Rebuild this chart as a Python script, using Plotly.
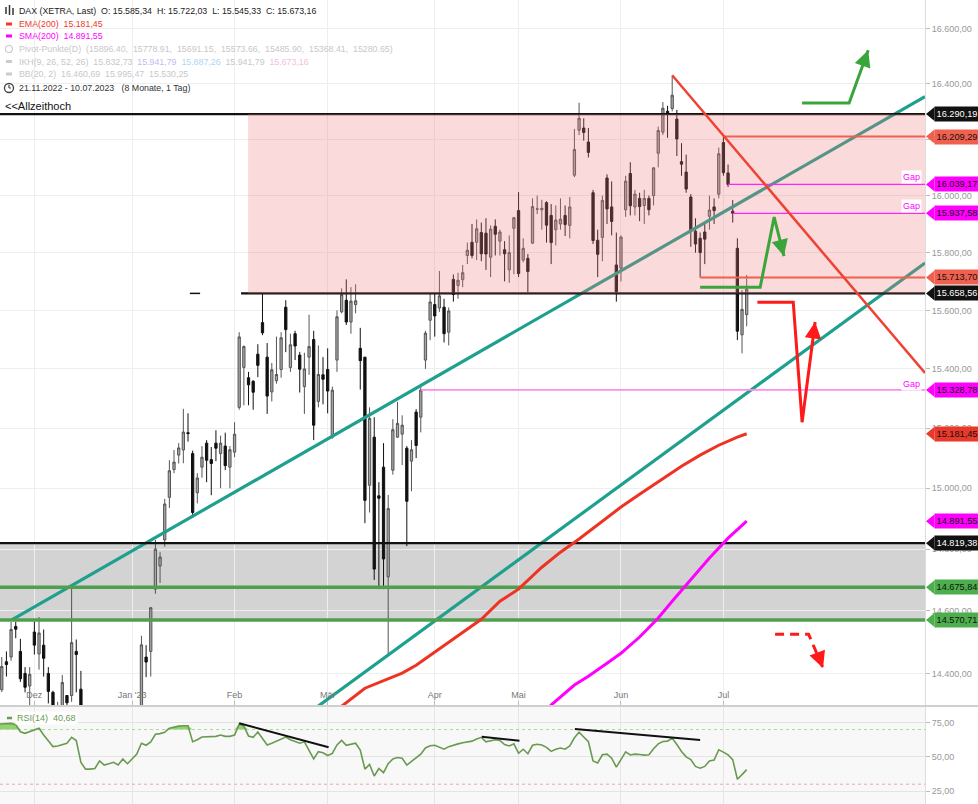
import math
import pandas as pd
import plotly.graph_objects as go

# ---------------- data ----------------
holidays = {"2022-12-26", "2023-04-07", "2023-04-10", "2023-05-01"}
dates = [d.strftime("%d.%m.%Y") for d in pd.bdate_range("2022-11-21", "2023-07-10")
         if d.strftime("%Y-%m-%d") not in holidays]

opens = [14383, 14348, 14437, 14452, 14550, 14470, 14400, 14360, 14532, 14462,
         14490, 14400, 14340, 14260, 14290, 14330, 14330, 14470, 14350, 13990,
         13900, 13880, 13920, 14100, 13900, 13960, 13990, 13920, 14040, 13990,
         14080, 14240, 14452, 14470, 14670, 14745, 14830, 14970, 15062, 15110,
         15127, 15185, 15115, 14985, 15070, 15150, 15095, 15150, 15115, 15140,
         15070, 15120, 15270, 15405, 15370, 15358, 15450, 15558, 15440, 15322,
         15360, 15398, 15611, 15405, 15520, 15447, 15340, 15440, 15500, 15290,
         15380, 15398, 15170, 15430, 15595, 15635, 15560, 15620, 15470, 15440,
         15010, 15170, 14975, 15070, 14710, 15060, 15170, 15180, 15133, 15090,
         15254, 15237, 15430, 15566, 15620, 15608, 15611, 15525, 15707, 15686,
         15706, 15790, 15836, 15836, 15870, 15868, 15784, 15892, 15840, 15810,
         15740, 15885, 15947, 15774, 15780, 15833, 15952, 15950, 15975, 15930,
         15880, 15900, 15930, 15895, 16072, 16232, 16240, 16190, 16010, 15843,
         15853, 16062, 15960, 15757, 15746, 15950, 16078, 15960, 15990, 15965,
         15990, 16000, 16150, 16225, 16300, 16310, 16272, 16120, 16083, 15995,
         15875, 15850, 15872, 15927, 15960, 16005, 16188, 16080, 15945, 15815,
         15516, 15585.34]
highs = [14395, 14452, 14470, 14564, 14565, 14510, 14420, 14420, 14565, 14580,
         14540, 14420, 14345, 14310, 14395, 14330, 14675, 14508, 14408, 14020,
         14010, 13960, 14110, 14160, 13960, 14025, 14030, 14090, 14050, 14090,
         14235, 14520, 14490, 14612, 14830, 14790, 14965, 15093, 15127, 15150,
         15265, 15250, 15125, 15050, 15140, 15160, 15137, 15193, 15175, 15185,
         15140, 15220, 15525, 15480, 15390, 15362, 15484, 15658.56, 15488, 15420,
         15510, 15525, 15635, 15520, 15530, 15458, 15455, 15585, 15530, 15480,
         15440, 15470, 15340, 15600, 15676, 15707, 15680, 15690, 15540, 15440,
         15270, 15237, 15020, 15150, 14978, 15230, 15288, 15243, 15140, 15160,
         15264, 15340, 15530, 15659, 15660, 15736, 15640, 15610, 15724, 15730,
         15757, 15835, 15900, 15916, 15905, 15920, 15895, 15916, 15880, 15840,
         15860, 15925, 16012, 15850, 15795, 15990, 16000, 15985, 15980, 15970,
         15965, 15990, 15965, 15995, 16237, 16331, 16275, 16240, 16020, 15880,
         16000, 16075, 16050, 15870, 15860, 16070, 16118, 16020, 16010, 16020,
         16000, 16100, 16245, 16333, 16320, 16427, 16305, 16186, 16145, 16005,
         15920, 15870, 15900, 16000, 15990, 16170, 16209.29, 16110, 15984, 15850,
         15670, 15722.03]
lows = [14290, 14341, 14390, 14440, 14512, 14373, 14340, 14300, 14460, 14412,
        14390, 14305, 14226, 14210, 14280, 14245, 14310, 14340, 13950, 13800,
        13860, 13790, 13915, 13830, 13880, 13930, 13900, 13900, 13880, 13970,
        14080, 14232, 14388, 14390, 14655, 14690, 14808, 14935, 15050, 15082,
        15083, 15155, 14905, 14950, 15035, 15020, 14977, 15090, 15000, 15060,
        15000, 15103, 15262, 15277, 15277, 15262, 15372, 15515, 15248, 15290,
        15350, 15370, 15457, 15390, 15430, 15320, 15248, 15380, 15160, 15270,
        15280, 15250, 15165, 15390, 15590, 15550, 15520, 15590, 15330, 14885,
        14920, 14700, 14670, 14670, 14458, 15045, 15168, 15077, 14810, 14990,
        15100, 15186, 15400, 15498, 15510, 15595, 15490, 15480, 15630, 15640,
        15680, 15760, 15780, 15774, 15770, 15740, 15715, 15790, 15790, 15700,
        15695, 15725, 15715, 15766, 15662, 15830, 15935, 15880, 15835, 15760,
        15825, 15880, 15858, 15850, 16065, 16215, 16195, 16135, 15830, 15715,
        15770, 15900, 15860, 15630, 15700, 15925, 15930, 15930, 15910, 15900,
        15930, 15965, 16100, 16215, 16205, 16300, 16140, 16070, 16010, 15820,
        15800, 15713.70, 15760, 15880, 15900, 15990, 16070, 16030, 15905, 15498,
        15453, 15545.33]
closes = [14380, 14422, 14428, 14540, 14541, 14383, 14356, 14397, 14490, 14529,
          14448, 14343, 14261, 14265, 14371, 14307, 14498, 14460, 13986, 13893,
          13943, 13885, 14098, 13914, 13941, 13995, 13926, 14072, 13924, 14069,
          14182, 14491, 14436, 14610, 14800, 14774, 14948, 15058, 15087, 15134,
          15187, 15182, 14920, 15034, 15103, 15093, 15082, 15133, 15150, 15075,
          15128, 15180, 15509, 15476, 15346, 15321, 15412, 15523, 15308, 15397,
          15381, 15506, 15534, 15482, 15478, 15399, 15400, 15476, 15210, 15381,
          15365, 15325, 15328, 15578, 15654, 15560, 15632, 15633, 15428, 14960,
          15233, 14735, 14967, 14768, 14933, 15195, 15216, 15210, 14957, 15128,
          15142, 15328.78, 15522, 15629, 15581, 15650, 15520, 15598, 15655, 15704,
          15730, 15808, 15790, 15883, 15796, 15795, 15882, 15864, 15872, 15796,
          15800, 15922, 15727, 15815, 15734, 15961, 15953, 15955, 15896, 15835,
          15914, 15917, 15898, 15960, 16163, 16275, 16224, 16153, 15842, 15794,
          15983, 15953, 15909, 15664, 15854, 16051, 15964, 16005, 15961, 15990,
          15950, 16098, 16231, 16311, 16290, 16358, 16201, 16111, 16023, 15880,
          15830, 15800, 15847, 15949, 15947, 16148, 16081, 16039.17, 15937.58, 15528.5,
          15603.5, 15673.16]
rsi = [74, 74, 74.5, 74.5, 73.5, 68.4, 67.2, 68.5, 69.5, 70.9,
       66, 61.5, 57.5, 58, 59, 60, 64.3, 62, 46, 41,
       41, 41.5, 47, 44, 45, 46, 44, 48.5, 45, 48.5,
       52, 60, 58.5, 61, 66.5, 67, 68, 71, 72, 72.5,
       72.8, 72.8, 61.1, 62.5, 64.5, 64.5, 64.5, 65, 66, 65,
       65, 66, 74, 72.5, 65.3, 64.3, 68.2, 63, 58.7, 60,
       61.5, 63.5, 64.5, 62.5, 61.5, 60, 61, 55, 48.5, 53.8,
       53, 51, 52.5, 58.7, 62, 58.5, 59.5, 60, 55, 41,
       44.5, 36, 41.5, 38.4, 45, 48.5, 49.5, 49, 44, 46.5,
       49.5, 52, 56.5, 58.2, 58.5, 57, 55.6, 57.5, 58.7, 59.5,
       60.3, 60.8, 61.5, 63, 64.3, 61, 62, 62.5, 62, 59,
       58, 59.5, 52.6, 55.6, 52.3, 58.5, 59.2, 58.7, 57, 54,
       55.5, 56.5, 55.6, 58, 64, 68, 64.5, 61.1, 47, 45.5,
       51.5, 52, 49, 42.5, 48, 53.6, 51.4, 52, 51.7, 51.3,
       51.5, 56, 59.5, 61.2, 61.5, 63.8, 59, 54, 50, 48,
       43, 41.7, 43, 47, 47.7, 55.2, 53.5, 51.5, 48, 33.6,
       37, 40.68]

ema_idx = [72, 74, 79, 84, 87, 90, 94, 99, 104, 108, 112, 117, 121, 125, 130, 134, 138, 142, 147, 151, 155, 159, 161]
ema_val = [14250, 14296, 14353, 14382, 14401, 14426, 14468, 14522, 14573, 14631, 14670, 14741, 14790, 14833,
           14892, 14938, 14980, 15020, 15073, 15110, 15143, 15170, 15181.45]
sma_idx = [118, 119, 124, 127, 131, 134, 138, 142, 145, 149, 153, 157, 161]
sma_val = [14280, 14300, 14363, 14391, 14432, 14464, 14516, 14577, 14631, 14702, 14771, 14836, 14891.55]

month_idx = [8, 29, 51, 71, 94, 112, 134, 156]
month_lbl = ["Dez", "Jan '23", "Feb", "Mär", "Apr", "Mai", "Jun", "Jul"]
price_ticks = [14400, 14600, 14800, 15000, 15200, 15400, 15600, 15800, 16000, 16200, 16400, 16600]
rsi_ticks = [25, 50, 75]

# key levels
lvl_ath = 16290.19
lvl_r1 = 16209.29
lvl_gap1 = 16039.17
lvl_gap2 = 15937.58
lvl_r2 = 15713.70
lvl_sup = 15658.56
lvl_gap3 = 15328.78
lvl_b = 14819.38
lvl_g1 = 14675.84
lvl_g2 = 14570.71
ema_last = 15181.45
sma_last = 14891.55

# ---------------- geometry ----------------
W, H = 978, 804
PR = 925
D0, D1 = 1 - 705 / H, 1.0
R0, R1 = 0.0, 1 - 707 / H
P_LO, P_HI = 14300, 16705
L0, L1 = math.log10(P_LO), math.log10(P_HI)
X_LO, X_HI = 0.62, 199.3
RSI_LO, RSI_HI = 15.5, 86.5


def py(p):
    return D0 + (math.log10(p) - L0) / (L1 - L0) * (D1 - D0)


def pxx(px):
    return px / PR


def pxy(pyy):
    return 1 - pyy / H


def de(v):
    s = f"{v:,.2f}"
    return s.replace(",", "X").replace(".", ",").replace("X", ".")


xi = list(range(len(dates)))
fig = go.Figure()

fig.add_trace(go.Candlestick(
    x=xi, open=opens, high=highs, low=lows, close=closes, text=dates,
    increasing=dict(line=dict(color="#555555", width=1), fillcolor="#a6a6a6"),
    decreasing=dict(line=dict(color="#111111", width=1), fillcolor="#111111"),
    whiskerwidth=0, showlegend=False, xaxis="x", yaxis="y"))


def line(xs, ys, color, width, dash=None, xa="x", ya="y"):
    fig.add_trace(go.Scatter(x=xs, y=ys, mode="lines", xaxis=xa, yaxis=ya,
                             line=dict(color=color, width=width, dash=dash),
                             hoverinfo="skip", showlegend=False))


TEAL = "#1fa08f"
line([3.14, X_HI], [14571, 16353], TEAL, 3.2)
line([65, X_HI], [14254, 15764], TEAL, 3.2)
line([0, X_HI], [lvl_ath, lvl_ath], "#111111", 2.2)
line([52.4, X_HI], [lvl_sup, lvl_sup], "#111111", 2.2)
line([41.4, 43.6], [lvl_sup, lvl_sup], "#111111", 1.5)
fig.add_trace(go.Scatter(x=[53.9, X_HI, X_HI, 53.9, 53.9],
                         y=[lvl_sup, lvl_sup, lvl_ath, lvl_ath, lvl_sup],
                         mode="lines", fill="toself", fillcolor="rgba(236,120,120,0.27)",
                         line=dict(width=0), hoverinfo="skip", showlegend=False))
line([0, X_HI], [lvl_b, lvl_b], "#111111", 2.2)
line([0, X_HI], [lvl_g1, lvl_g1], "#4f9f4f", 3.5)
line([0, X_HI], [lvl_g2, lvl_g2], "#4f9f4f", 3.5)
line([156, X_HI], [lvl_r1, lvl_r1], "#f0604f", 2)
line([151, X_HI], [lvl_r2, lvl_r2], "#f0604f", 2)
line([157, X_HI], [lvl_gap1, lvl_gap1], "#ff22ff", 1.2)
line([158, X_HI], [lvl_gap2, lvl_gap2], "#ff22ff", 1.2)
line([91, X_HI], [lvl_gap3, lvl_gap3], "#ff8cf0", 1.8)
line([145, X_HI], [16430, 15386], "#f04232", 2.5)
line(ema_idx, ema_val, "#ee3322", 3)
line(sma_idx, sma_val, "#ff00ff", 3)

GREEN_A = "#3aa53a"
RED_A = "#ff1a1a"
line([172.9, 183.0, 187.1], [16330, 16330, 16521], GREEN_A, 3)
line([151.0, 163.9, 166.9, 169.0], [15680, 15680, 15924, 15788], GREEN_A, 3)
line([163.3, 171.0, 172.9, 175.7], [15628, 15628, 15220, 15560], RED_A, 3)
line([167.1, 174.3, 177.4], [14525, 14525, 14417], RED_A, 3, dash="9px,6px")

# RSI panel
fig.add_trace(go.Scatter(x=xi, y=[70] * len(xi), mode="lines", xaxis="x2", yaxis="y2",
                         line=dict(width=0, color="rgba(0,0,0,0)"), hoverinfo="skip", showlegend=False))
fig.add_trace(go.Scatter(x=xi, y=[max(v, 70) for v in rsi], mode="lines", xaxis="x2", yaxis="y2",
                         fill="tonexty", fillcolor="rgba(128,204,88,0.85)",
                         line=dict(width=0, color="rgba(0,0,0,0)"), hoverinfo="skip", showlegend=False))
line([X_LO, X_HI], [70, 70], "#a8dc90", 1, dash="dot", xa="x2", ya="y2")
line([X_LO, X_HI], [30, 30], "#f5a0a0", 1, dash="dot", xa="x2", ya="y2")
line(xi, rsi, "#6a9a50", 1.6, xa="x2", ya="y2")
line([52.0, 71.2], [74.6, 57.1], "#111111", 2, xa="x2", ya="y2")
line([104.1, 112.2], [64.8, 61.8], "#111111", 2, xa="x2", ya="y2")
line([124.1, 151.0], [70.4, 62.4], "#111111", 2, xa="x2", ya="y2")

# ---------------- shapes ----------------
shapes = [
    dict(type="rect", xref="x", yref="y", x0=X_LO - 1, x1=X_HI + 1, y0=lvl_g2, y1=lvl_b,
         fillcolor="#d3d3d3", line=dict(width=0), layer="below"),
    dict(type="rect", xref="paper", yref="paper", x0=0, x1=1, y0=R0, y1=R1,
         fillcolor="#f8f8f8", line=dict(width=0), layer="below"),
    dict(type="line", xref="paper", yref="paper", x0=0, x1=W / PR, y0=pxy(706), y1=pxy(706),
         line=dict(color="#cfcfcf", width=2)),
]

tags = [(lvl_ath, "#111111", "#ffffff"), (lvl_r1, "#f0604f", "#111111"),
        (lvl_gap1, "#ff00ff", "#111111"), (lvl_gap2, "#ff00ff", "#111111"),
        (lvl_r2, "#f0604f", "#111111"), (lvl_sup, "#111111", "#ffffff"),
        (lvl_gap3, "#ff00ff", "#111111"), (ema_last, "#e8392b", "#111111"),
        (sma_last, "#ff00ff", "#111111"), (lvl_b, "#111111", "#ffffff"),
        (lvl_g1, "#4cae4c", "#111111"), (lvl_g2, "#4cae4c", "#111111")]

annotations = []
for p, bg, fg in tags:
    yy = py(p)
    h = 7 / H
    xt, xb = pxx(926), pxx(934.5)
    shapes.append(dict(type="path", xref="paper", yref="paper",
                       path=f"M {xt},{yy} L {xb},{yy + h} L {xb},{yy - h} Z",
                       fillcolor=bg, line=dict(width=0)))
    annotations.append(dict(xref="paper", yref="paper", x=pxx(934), y=yy, xanchor="left", yanchor="middle",
                            text=de(p), showarrow=False, bgcolor=bg, borderpad=1, width=42, height=12,
                            align="center", font=dict(size=9.2, color=fg)))

shapes += [
    dict(type="line", xref="paper", yref="paper", x0=pxx(6), x1=pxx(6), y0=pxy(7), y1=pxy(14), line=dict(color="#333", width=1.5)),
    dict(type="line", xref="paper", yref="paper", x0=pxx(9.5), x1=pxx(9.5), y0=pxy(5), y1=pxy(15), line=dict(color="#333", width=1.5)),
    dict(type="line", xref="paper", yref="paper", x0=pxx(13), x1=pxx(13), y0=pxy(8), y1=pxy(15), line=dict(color="#333", width=1.5)),
    dict(type="line", xref="paper", yref="paper", x0=pxx(6), x1=pxx(12), y0=pxy(24), y1=pxy(24), line=dict(color="#f0392b", width=3)),
    dict(type="line", xref="paper", yref="paper", x0=pxx(6), x1=pxx(12), y0=pxy(36), y1=pxy(36), line=dict(color="#ff00ff", width=3)),
    dict(type="circle", xref="paper", yref="paper", x0=pxx(5.5), x1=pxx(12.5), y0=pxy(45.5), y1=pxy(52.5), line=dict(color="#cccccc", width=1.2)),
    dict(type="line", xref="paper", yref="paper", x0=pxx(6), x1=pxx(12), y0=pxy(61.5), y1=pxy(61.5), line=dict(color="#cccccc", width=3)),
    dict(type="line", xref="paper", yref="paper", x0=pxx(6), x1=pxx(12), y0=pxy(74), y1=pxy(74), line=dict(color="#cccccc", width=3)),
    dict(type="circle", xref="paper", yref="paper", x0=pxx(4.5), x1=pxx(13.5), y0=pxy(83.5), y1=pxy(92.5), line=dict(color="#444", width=1.3)),
    dict(type="line", xref="paper", yref="paper", x0=pxx(9), x1=pxx(9), y0=pxy(88), y1=pxy(85), line=dict(color="#444", width=1.2)),
    dict(type="line", xref="paper", yref="paper", x0=pxx(9), x1=pxx(11), y0=pxy(88), y1=pxy(88), line=dict(color="#444", width=1.2)),
    dict(type="line", xref="paper", yref="paper", x0=pxx(7), x1=pxx(12), y0=pxy(718), y1=pxy(718), line=dict(color="#6a9a50", width=2.5)),
]

NB = "\u00a0"
legend_lines = [
    (10.5, f"DAX (XETRA, Last){NB} O: 15.585,34{NB} H: 15.722,03{NB} L: 15.545,33{NB} C: 15.673,16", "#222222"),
    (24, f"EMA(200){NB} 15.181,45", "#f0392b"),
    (36, f"SMA(200){NB} 14.891,55", "#ff00ff"),
    (49, f"Pivot-Punkte(D){NB} (15896.40,{NB} 15778.91,{NB} 15691.15,{NB} 15573.66,{NB} 15485.90,{NB} 15368.41,{NB} 15280.65)", "#c8c8c8"),
    (61.5, f"IKH(9, 26, 52, 26){NB} 15.832,73{NB} <span style='color:#c8b6f2'>15.941,79</span>{NB} "
           f"<span style='color:#acd6f2'>15.887,26</span>{NB} 15.941,79{NB} <span style='color:#f2bedc'>15.673,16</span>", "#c8c8c8"),
    (74, f"BB(20, 2){NB} 16.460,69{NB} 15.995,47{NB} 15.530,25", "#c8c8c8"),
    (88, f"21.11.2022 - 10.07.2023{NB}{NB} (8 Monate, 1 Tag)", "#333333"),
]
for yy, txt, col in legend_lines:
    annotations.append(dict(xref="paper", yref="paper", x=pxx(17), y=pxy(yy), xanchor="left", yanchor="middle",
                            text=txt, showarrow=False, font=dict(size=8.8, color=col)))
annotations.append(dict(xref="paper", yref="paper", x=pxx(3), y=pxy(106), xanchor="left", yanchor="middle",
                        text="&lt;&lt;Allzeithoch", showarrow=False, font=dict(size=11, color="#111111")))
for yy in (177, 205.5, 383.5):
    annotations.append(dict(xref="paper", yref="paper", x=pxx(911), y=pxy(yy), xanchor="center", yanchor="middle",
                            text="Gap", showarrow=False, bgcolor="#ffffff", font=dict(size=9, color="#ff00ff")))
annotations.append(dict(xref="paper", yref="paper", x=pxx(15), y=pxy(718), xanchor="left", yanchor="middle",
                        text=f"RSI(14){NB} 40,68", showarrow=False, bgcolor="rgba(255,255,255,0.9)",
                        font=dict(size=9, color="#6a9a50")))

for hx, hp, ax, ay, col in [(187.1, 16521, -4.1, 11.3, GREEN_A), (169.0, 15788, -3.0, -11.6, GREEN_A),
                            (175.7, 15560, -1.5, 11.9, RED_A), (177.4, 14417, -4.2, -11.2, RED_A)]:
    annotations.append(dict(xref="x", yref="paper", x=hx, y=py(hp), ax=ax, ay=ay, text="",
                            showarrow=True, arrowhead=2, arrowsize=1.1, arrowwidth=3, arrowcolor=col))

fig.update_layout(
    width=W, height=H, margin=dict(l=0, r=W - PR, t=0, b=0, autoexpand=False),
    paper_bgcolor="#ffffff", plot_bgcolor="rgba(0,0,0,0)",
    showlegend=False, hovermode=False,
    font=dict(family="Arial, Liberation Sans, sans-serif", size=10, color="#333"),
    shapes=shapes, annotations=annotations,
    xaxis=dict(domain=[0, 1], anchor="y", range=[X_LO, X_HI], tickvals=month_idx, ticktext=month_lbl,
               ticklabelposition="inside", ticks="inside", ticklen=4, tickcolor="#bbbbbb",
               tickfont=dict(size=9, color="#777777"), showgrid=True, gridcolor="#eeeeee",
               zeroline=False, showline=False, rangeslider=dict(visible=False), automargin=False),
    yaxis=dict(domain=[D0, D1], anchor="x", type="log", range=[L0, L1], side="right",
               tickvals=price_ticks, ticktext=[de(v) for v in price_ticks],
               ticks="outside", ticklen=4, tickcolor="#bbbbbb", tickfont=dict(size=9, color="#999999"),
               showgrid=True, gridcolor="#eeeeee", zeroline=False, showline=True, linecolor="#dddddd",
               automargin=False),
    xaxis2=dict(domain=[0, 1], anchor="y2", matches="x", range=[X_LO, X_HI], tickvals=month_idx,
                showticklabels=False, ticks="", showgrid=True, gridcolor="#e6e6e6", zeroline=False,
                automargin=False),
    yaxis2=dict(domain=[R0, R1], anchor="x2", range=[RSI_LO, RSI_HI], side="right",
                tickvals=rsi_ticks, ticktext=[de(v) for v in rsi_ticks],
                ticks="outside", ticklen=4, tickcolor="#bbbbbb", tickfont=dict(size=9, color="#999999"),
                showgrid=True, gridcolor="#e4e4e4", zeroline=False, showline=True, linecolor="#dddddd",
                automargin=False),
)

fig.write_html("out.html", config={"displayModeBar": False, "staticPlot": True},
               post_script="document.body.style.margin='0px';document.body.style.padding='0px';"
                           "document.body.style.overflow='hidden';")
